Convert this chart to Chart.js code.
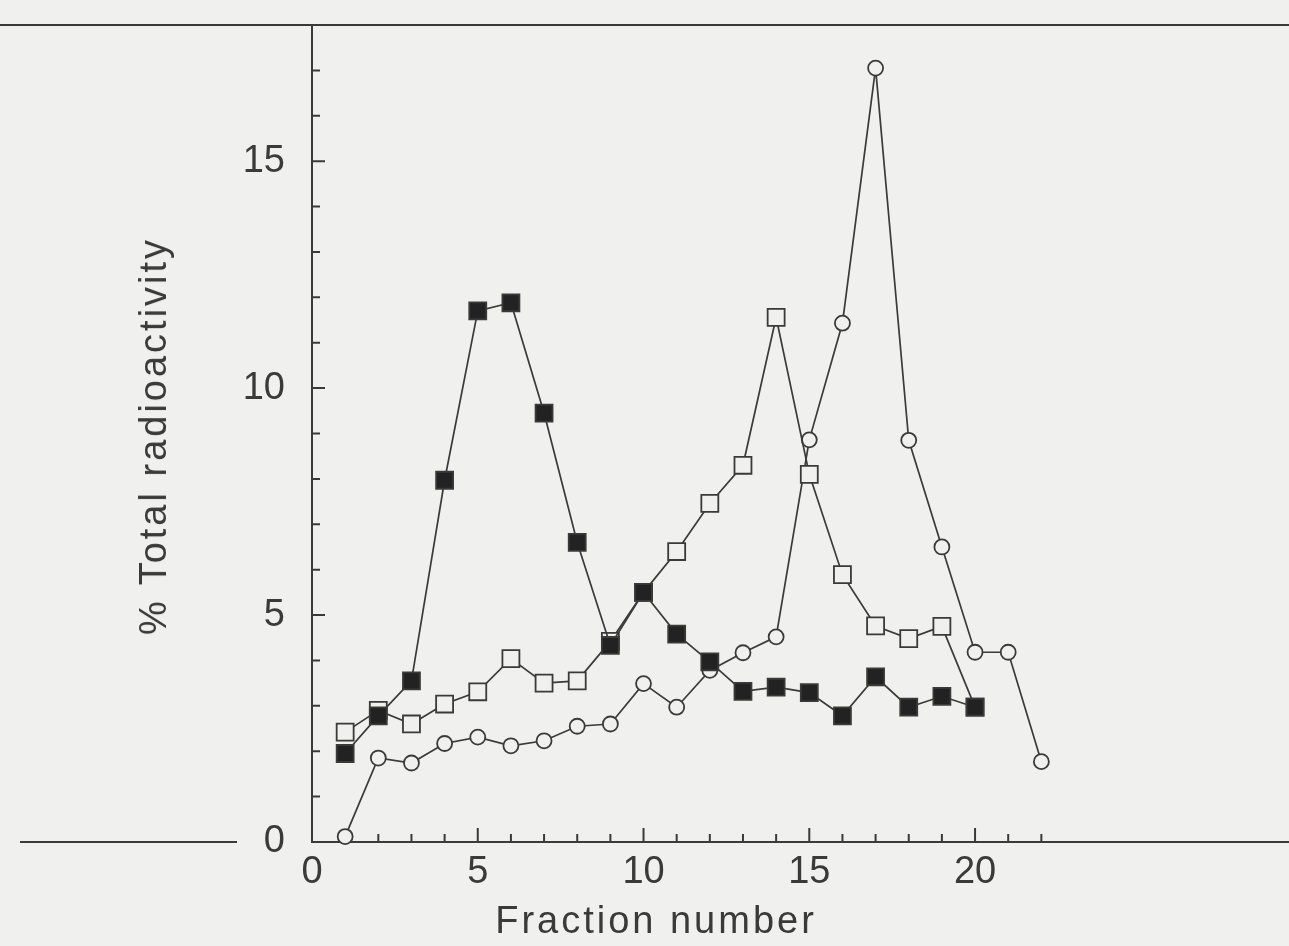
<!DOCTYPE html>
<html>
<head>
<meta charset="utf-8">
<script src="https://cdn.jsdelivr.net/npm/chart.js@4.4.1/dist/chart.umd.min.js"></script>
<style>
    html, body { margin: 0; padding: 0; background: #f0f0ef; }
    #wrap { position: relative; width: 1289px; height: 946px; overflow: hidden; }
    canvas { position: absolute; left: 0; top: 0; }
    .axis-title {
        position: absolute;
        font-family: "Liberation Sans", Arial, sans-serif;
        font-size: 38px;
        line-height: 38px;
        letter-spacing: 3px;
        color: #3a3a3a;
        white-space: nowrap;
    }
    #xTitle { left: 656px; top: 901px; transform: translateX(-50%); }
    #yTitle { left: 153px; top: 436px; transform: translate(-50%, -50%) rotate(-90deg); }
</style>
</head>
<body>
<div id="wrap">
    <canvas id="chart" width="1289" height="946"></canvas>
    <div class="axis-title" id="xTitle">Fraction number</div>
    <div class="axis-title" id="yTitle">% Total radioactivity</div>
</div>
<script>
// fraction numbers on the x axis
const fractions = [1, 2, 3, 4, 5, 6, 7, 8, 9, 10, 11, 12, 13, 14, 15, 16, 17, 18, 19, 20, 21, 22];

// % total radioactivity per fraction
const filledSquares = [1.95, 2.78, 3.55, 7.97, 11.7, 11.88, 9.45, 6.6, 4.33, 5.5,
                       4.58, 3.97, 3.32, 3.41, 3.29, 2.78, 3.64, 2.97, 3.21, 2.97];
const openSquares   = [2.42, 2.9, 2.6, 3.04, 3.31, 4.04, 3.5, 3.55, 4.42, 5.5,
                       6.4, 7.46, 8.3, 11.56, 8.1, 5.89, 4.76, 4.48, 4.75, 2.97];
const openCircles   = [0.12, 1.85, 1.74, 2.17, 2.31, 2.12, 2.23, 2.55, 2.6, 3.49,
                       2.97, 3.78, 4.17, 4.52, 8.86, 11.43, 17.05, 8.85, 6.5, 4.18, 4.18, 1.77];

// labelled ticks
const xTickLabels = [0, 5, 10, 15, 20];
const yTickLabels = [0, 5, 10, 15];

const INK = '#3a3a3a';
const PAPER = '#f0f0ef';
const FONT = '"Liberation Sans", Arial, sans-serif';

function toPoints(values) {
    return values.map((v, i) => ({ x: fractions[i], y: v }));
}

// inward ticks + the page rules around the figure
const frameTicks = {
    id: 'frameTicks',
    beforeDatasetsDraw(chart) {
        const ctx = chart.ctx;
        const xs = chart.scales.x;
        const ys = chart.scales.y;
        const area = chart.chartArea;
        ctx.save();
        ctx.strokeStyle = INK;
        ctx.lineWidth = 2;
        ctx.beginPath();
        fractions.forEach(n => {
            const px = xs.getPixelForValue(n);
            const len = n % 5 === 0 ? 14 : 8;
            ctx.moveTo(px, area.bottom);
            ctx.lineTo(px, area.bottom - len);
        });
        for (let v = 1; v < 18; v++) {
            const py = ys.getPixelForValue(v);
            const len = v % 5 === 0 ? 13 : 8;
            ctx.moveTo(area.left, py);
            ctx.lineTo(area.left + len, py);
        }
        // page rules
        ctx.moveTo(0, area.top);
        ctx.lineTo(chart.width, area.top);
        ctx.moveTo(20, area.bottom);
        ctx.lineTo(237, area.bottom);
        ctx.stroke();
        ctx.restore();
    }
};

const lineStyle = {
    borderColor: INK,
    borderWidth: 1.7,
    tension: 0,
    clip: false,
    pointBorderColor: INK,
    pointBorderWidth: 1.8
};

new Chart(document.getElementById('chart'), {
    type: 'line',
    data: {
        datasets: [
            Object.assign({}, lineStyle, {
                label: 'filled squares',
                data: toPoints(filledSquares),
                pointStyle: 'rect',
                pointRadius: 12,
                pointBackgroundColor: '#222'
            }),
            Object.assign({}, lineStyle, {
                label: 'open squares',
                data: toPoints(openSquares),
                pointStyle: 'rect',
                pointRadius: 12,
                pointBackgroundColor: PAPER
            }),
            Object.assign({}, lineStyle, {
                label: 'open circles',
                data: toPoints(openCircles),
                pointStyle: 'circle',
                pointRadius: 7.5,
                pointBackgroundColor: PAPER
            })
        ]
    },
    options: {
        responsive: false,
        animation: false,
        devicePixelRatio: 1,
        layout: {
            autoPadding: false,
            padding: { top: 25, left: 0, right: 0, bottom: 0 }
        },
        plugins: {
            legend: { display: false },
            tooltip: { enabled: false }
        },
        scales: {
            x: {
                type: 'linear',
                min: 0,
                max: 29.47,
                afterFit: s => {
                    s.height = 104;
                    s.paddingLeft = 0;
                    s.paddingRight = 0;
                },
                afterBuildTicks: s => { s.ticks = xTickLabels.map(v => ({ value: v })); },
                grid: { display: false, drawTicks: false },
                border: { display: true, color: INK, width: 2 },
                ticks: {
                    padding: 8,
                    color: INK,
                    font: { family: FONT, size: 38 },
                    maxRotation: 0,
                    autoSkip: false
                }
            },
            y: {
                min: 0,
                max: 18,
                afterFit: s => {
                    s.width = 312;
                    s.paddingTop = 0;
                    s.paddingBottom = 0;
                },
                afterBuildTicks: s => { s.ticks = yTickLabels.map(v => ({ value: v })); },
                grid: { display: false, drawTicks: false },
                border: { display: true, color: INK, width: 2 },
                ticks: {
                    padding: 27,
                    color: INK,
                    font: { family: FONT, size: 38 }
                }
            }
        }
    },
    plugins: [frameTicks]
});
</script>
</body>
</html>
